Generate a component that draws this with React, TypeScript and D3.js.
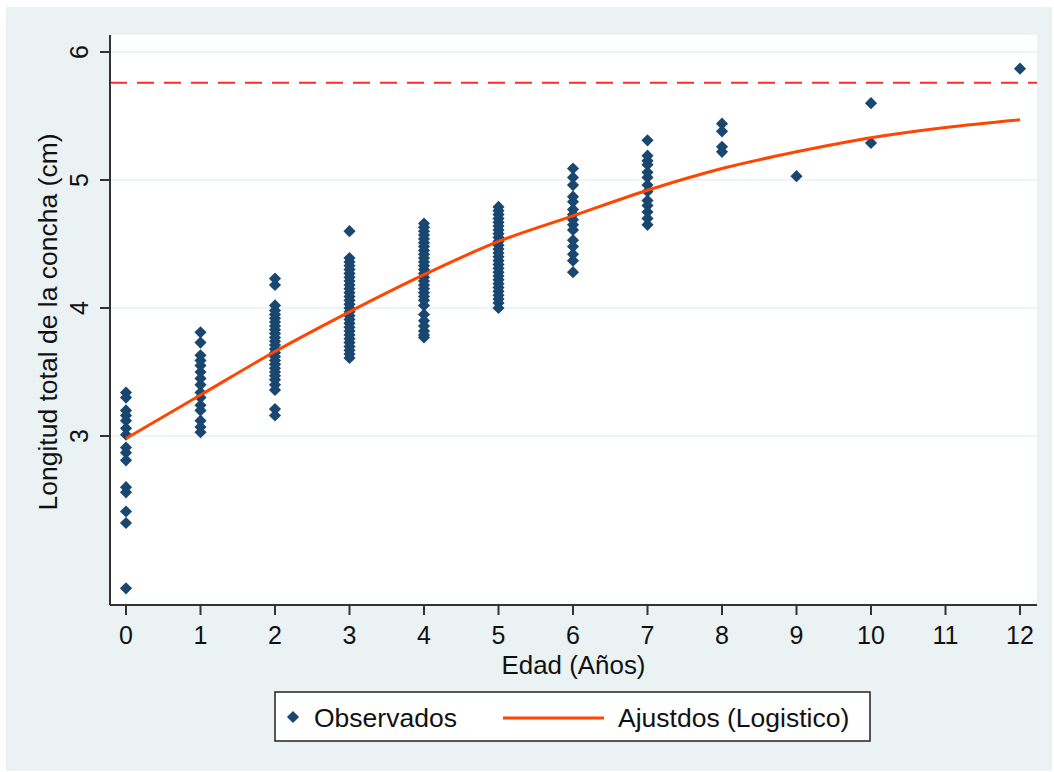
import * as d3 from "d3";

const edades = [0, 1, 2, 3, 4, 5, 6, 7, 8, 9, 10, 11, 12];

const obs0 = [3.34, 3.3, 3.2, 3.16, 3.12, 3.06, 3.01, 2.91, 2.87, 2.81, 2.6, 2.56, 2.41, 2.32, 1.81];
const obs1 = [3.81, 3.73, 3.63, 3.59, 3.55, 3.5, 3.45, 3.4, 3.34, 3.3, 3.24, 3.2, 3.12, 3.07, 3.03];
const obs2 = [4.23, 4.18, 4.02, 3.98, 3.95, 3.92, 3.89, 3.86, 3.83, 3.8, 3.77, 3.74, 3.71, 3.68, 3.65, 3.62, 3.59, 3.56, 3.53, 3.5, 3.47, 3.44, 3.4, 3.36, 3.21, 3.16];
const obs3 = [4.6, 4.39, 4.36, 4.33, 4.3, 4.27, 4.24, 4.21, 4.18, 4.15, 4.12, 4.09, 4.06, 4.03, 4.0, 3.97, 3.94, 3.91, 3.88, 3.85, 3.82, 3.79, 3.76, 3.73, 3.7, 3.67, 3.64, 3.61];
const obs4 = [4.66, 4.63, 4.6, 4.57, 4.54, 4.51, 4.48, 4.45, 4.42, 4.39, 4.36, 4.33, 4.3, 4.27, 4.24, 4.21, 4.18, 4.15, 4.12, 4.09, 4.06, 4.02, 3.95, 3.9, 3.86, 3.82, 3.79, 3.77];
const obs5 = [4.79, 4.76, 4.73, 4.7, 4.67, 4.64, 4.61, 4.58, 4.55, 4.52, 4.49, 4.46, 4.43, 4.4, 4.37, 4.34, 4.31, 4.28, 4.25, 4.22, 4.19, 4.16, 4.13, 4.1, 4.07, 4.04, 4.0];
const obs6 = [5.09, 5.02, 4.96, 4.87, 4.83, 4.77, 4.73, 4.69, 4.65, 4.61, 4.53, 4.48, 4.42, 4.37, 4.28];
const obs7 = [5.31, 5.19, 5.15, 5.12, 5.06, 5.02, 4.96, 4.91, 4.84, 4.8, 4.75, 4.7, 4.65];
const obs8 = [5.44, 5.38, 5.26, 5.22];
const obs9 = [5.03];
const obs10 = [5.6, 5.29];
const obs12 = [5.87];

const observados: [number, number[]][] = [
  [0, obs0], [1, obs1], [2, obs2], [3, obs3], [4, obs4], [5, obs5], [6, obs6],
  [7, obs7], [8, obs8], [9, obs9], [10, obs10], [12, obs12],
];

// fitted logistic values at each age
const ajustados = [2.98, 3.32, 3.66, 3.97, 4.26, 4.52, 4.72, 4.92, 5.09, 5.22, 5.33, 5.41, 5.47];
const asintota = 5.76;

const yTicks = [3, 4, 5, 6];

const W = 1054;
const H = 772;
const plot = { left: 110, right: 1037, top: 35, bottom: 605 };
const font = "'Liberation Sans', Arial, sans-serif";
const navy = "#1a476f";
const naranja = "#ff4500";

export default function App() {
  const x = d3.scaleLinear().domain([0, 12]).range([126, 1020]);
  const y = d3.scaleLinear().domain([3, 6]).range([436, 52]);

  const puntos = observados.flatMap(([edad, vals]) => vals.map((v) => ({ edad, v })));
  const diamante = d3.symbol(d3.symbolSquare, 74)()!;

  const linea = d3
    .line<number>()
    .x((_, i) => x(edades[i]))
    .y((d) => y(d))
    .curve(d3.curveMonotoneX);

  return (
    <svg width={W} height={H} style={{ position: "absolute", left: 0, top: 0 }} fontFamily={font}>
      <rect x={0} y={0} width={W} height={H} fill="#ffffff" />
      <rect x={6} y={7} width={W - 8} height={H - 8} fill="#eaf2f3" />
      <rect x={plot.left} y={plot.top} width={plot.right - plot.left} height={plot.bottom - plot.top} fill="#ffffff" />

      {yTicks.map((t) => (
        <g key={t}>
          <line x1={plot.left} x2={plot.right} y1={y(t)} y2={y(t)} stroke="#eaf2f3" strokeWidth={1.5} />
          <line x1={plot.left - 10} x2={plot.left} y1={y(t)} y2={y(t)} stroke="#333" strokeWidth={2} />
          <text
            transform={`translate(${plot.left - 22},${y(t)}) rotate(-90)`}
            textAnchor="middle"
            fontSize={25}
            fill="#111"
          >
            {t}
          </text>
        </g>
      ))}

      <line x1={plot.left} x2={plot.right} y1={y(asintota)} y2={y(asintota)} stroke="#ff2a2a" strokeWidth={2} strokeDasharray="17,10" />

      {puntos.map((p, i) => (
        <path key={i} d={diamante} transform={`translate(${x(p.edad)},${y(p.v)}) rotate(45)`} fill={navy} />
      ))}

      <path d={linea(ajustados)!} fill="none" stroke={naranja} strokeWidth={3} />

      <line x1={plot.left} x2={plot.left} y1={plot.top} y2={plot.bottom} stroke="#333" strokeWidth={2} />
      <line x1={plot.left} x2={plot.right} y1={plot.bottom} y2={plot.bottom} stroke="#333" strokeWidth={2} />

      {edades.map((e) => (
        <g key={e}>
          <line x1={x(e)} x2={x(e)} y1={plot.bottom} y2={plot.bottom + 10} stroke="#333" strokeWidth={2} />
          <text x={x(e)} y={644} textAnchor="middle" fontSize={25} fill="#111">
            {e}
          </text>
        </g>
      ))}

      <text x={(plot.left + plot.right) / 2} y={674} textAnchor="middle" fontSize={25} fill="#111" textLength={144} lengthAdjust="spacingAndGlyphs">
        Edad (Años)
      </text>
      <text transform={`translate(57,322) rotate(-90)`} textAnchor="middle" fontSize={26.5} fill="#111">
        Longitud total de la concha (cm)
      </text>

      <g>
        <rect x={275} y={692} width={595} height={49} fill="#fff" stroke="#222" strokeWidth={1.5} />
        <path d={diamante} transform="translate(293,717) rotate(45)" fill={navy} />
        <text x={314} y={727} fontSize={26.5} fill="#111">
          Observados
        </text>
        <line x1={503} x2={604} y1={718} y2={718} stroke={naranja} strokeWidth={3} />
        <text x={618} y={727} fontSize={26.5} fill="#111">
          Ajustdos (Logistico)
        </text>
      </g>
    </svg>
  );
}
